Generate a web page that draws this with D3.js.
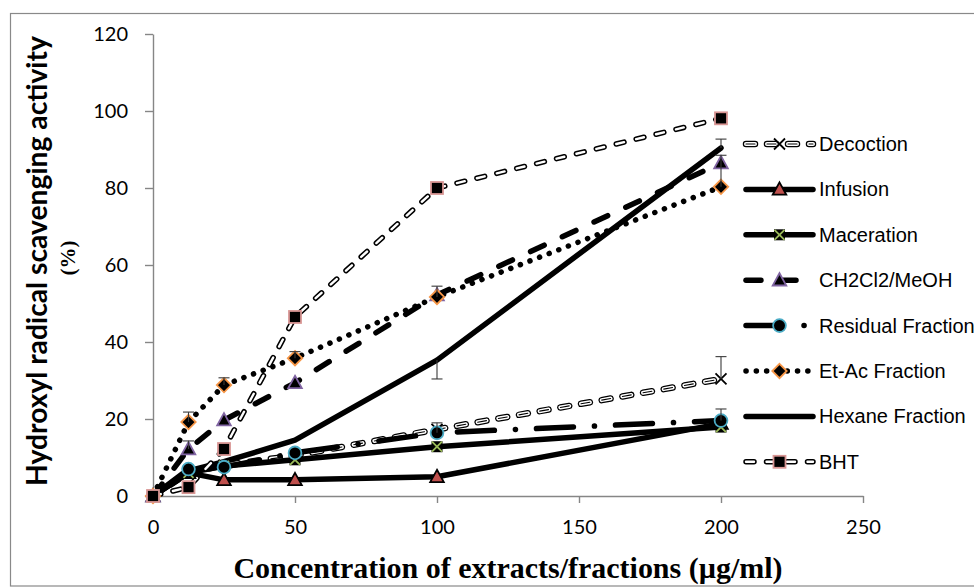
<!DOCTYPE html>
<html>
<head>
<meta charset="utf-8">
<script src="https://cdn.jsdelivr.net/npm/d3@7"></script>
<style>
  html, body { margin: 0; padding: 0; background: #fff; }
  svg { display: block; }
</style>
</head>
<body>
<svg id="chart" width="974" height="588"></svg>
<script>
// ---------- data ----------
const concentrations = [0, 12.5, 25, 50, 100, 200];
const seriesNames = ["Decoction", "Infusion", "Maceration", "CH2Cl2/MeOH",
  "Residual Fraction", "Et-Ac Fraction", "Hexane Fraction", "BHT"];
const decoction  = [0, 6.0, 8.0, 10.5, 17.3, 30.4];
const infusion   = [0, 6.0, 4.2, 4.2, 5.0, 18.8];
const maceration = [0, 6.0, 7.8, 9.4, 12.8, 17.9];
const ch2cl2     = [0, 12.2, 19.7, 29.4, 52.2, 86.5];
const residual   = [0, 7.0, 7.5, 11.2, 16.4, 19.6];
const etac       = [0, 19.2, 28.8, 35.8, 51.7, 80.3];
const hexane     = [0, 6.5, 8.9, 14.5, 35.3, 90.4];
const bht        = [0, 2.3, 12.2, 46.5, 80.0, 98.1];
// error bars (plus / minus), 0 = none
const decoctionErrPlus = [0, 0, 0, 0, 0, 5.8];
const etacErrPlus      = [0, 2.6, 1.9, 1.7, 2.8, 8.2];
const ch2cl2ErrPlus    = [0, 2.1, 0, 0, 0, 0];
const residualErrPlus  = [0, 0, 0, 0, 2.6, 3.0];
const hexaneErrPlus    = [0, 0, 0, 0, 0, 2.3];
const hexaneErrMinus   = [0, 0, 0, 0, 4.9, 0];
const zeros            = [0, 0, 0, 0, 0, 0];
const xTicks = [0, 50, 100, 150, 200, 250];
const yTicks = [0, 20, 40, 60, 80, 100, 120];
const xTitle = "Concentration of extracts/fractions (µg/ml)";
const yTitle1 = "Hydroxyl radical scavenging activity";
const yTitle2 = "(%)";

// ---------- setup ----------
const svg = d3.select("#chart");
const x = d3.scaleLinear().domain([0, 250]).range([153, 863]);
const y = d3.scaleLinear().domain([0, 120]).range([496, 34]);

// outer border
svg.append("rect").attr("x", 10.5).attr("y", 13.5).attr("width", 980).attr("height", 572.5)
  .attr("fill", "none").attr("stroke", "#898989").attr("stroke-width", 1.2);

const series = [
  {name: seriesNames[0], values: decoction,  style: "hollow2", marker: "x",        plus: decoctionErrPlus, minus: zeros},
  {name: seriesNames[1], values: infusion,   style: "solid",   marker: "triRed",   plus: zeros, minus: zeros},
  {name: seriesNames[2], values: maceration, style: "solid",   marker: "xGreen",   plus: zeros, minus: zeros},
  {name: seriesNames[3], values: ch2cl2,     style: "dash",    marker: "triPurple",plus: ch2cl2ErrPlus, minus: zeros},
  {name: seriesNames[4], values: residual,   style: "dashdot", marker: "circle",   plus: residualErrPlus, minus: zeros},
  {name: seriesNames[5], values: etac,       style: "dot",     marker: "diamond",  plus: etacErrPlus, minus: zeros},
  {name: seriesNames[6], values: hexane,     style: "solid",   marker: "none",     plus: hexaneErrPlus, minus: hexaneErrMinus},
  {name: seriesNames[7], values: bht,        style: "hollow",  marker: "square",   plus: zeros, minus: zeros}
];

// ---------- axes ----------
const axisColor = "#868686";
const yAxis = svg.append("g").attr("transform", "translate(153,0)")
  .call(d3.axisLeft(y).tickValues(yTicks).tickSize(8).tickSizeOuter(0).tickPadding(17));
const xAxis = svg.append("g").attr("transform", "translate(0,496)")
  .call(d3.axisBottom(x).tickValues(xTicks).tickSize(7).tickSizeOuter(0).tickPadding(17));
[xAxis, yAxis].forEach(a => {
  a.selectAll("path.domain").attr("stroke", axisColor).attr("stroke-width", 1.4);
  a.selectAll(".tick line").attr("stroke", axisColor).attr("stroke-width", 1.4);
  a.selectAll(".tick text").attr("fill", "#000").attr("font-family", "Lato, 'Open Sans', sans-serif")
    .attr("font-size", 20);
});

// ---------- lines ----------
const lineGen = d3.line().x((d, i) => x(concentrations[i])).y(d => y(d));
const plot = svg.append("g");

function styledPath(g, d, style) {
  const add = (w, color, dash, cap) => g.append("path").attr("d", d).attr("fill", "none")
    .attr("stroke", color).attr("stroke-width", w).attr("stroke-linejoin", "round")
    .attr("stroke-linecap", cap || "round").attr("stroke-dasharray", dash || null);
  if (style === "solid") add(5.5, "#000");
  else if (style === "dash") add(5.5, "#000", "15,20");
  else if (style === "dashdot") add(5.5, "#000", "37,21,0.1,21");
  else if (style === "dot") add(5.5, "#000", "0.1,10.2");
  else if (style === "hollow") { add(5.5, "#000", "8,12.5"); add(2.4, "#fff", "8,12.5"); }
  else if (style === "hollow2") { add(6.5, "#000", "9,12"); add(4, "#fff", "9,12"); add(1.1, "#000", "9,12"); }
}

series.forEach(s => styledPath(plot.append("g"), lineGen(s.values), s.style));

// ---------- markers ----------
function drawMarker(g, cx, cy, type) {
  const m = g.append("g").attr("transform", `translate(${cx},${cy})`);
  if (type === "square") {
    m.append("rect").attr("x", -6).attr("y", -6).attr("width", 12).attr("height", 12)
      .attr("fill", "#000").attr("stroke", "#d99694").attr("stroke-width", 1.8);
  } else if (type === "triPurple" || type === "triRed") {
    m.append("path").attr("d", "M0,-7 L6.8,5.3 L-6.8,5.3 Z")
      .attr("fill", type === "triPurple" ? "#000" : "#c0504d")
      .attr("stroke", type === "triPurple" ? "#8064a2" : "#000").attr("stroke-width", 1.8)
      .attr("stroke-linejoin", "miter");
  } else if (type === "circle") {
    m.append("circle").attr("r", 6.4).attr("fill", "#000").attr("stroke", "#4bacc6").attr("stroke-width", 1.8);
  } else if (type === "diamond") {
    m.append("path").attr("d", "M0,-7.2 L7.2,0 L0,7.2 L-7.2,0 Z")
      .attr("fill", "#000").attr("stroke", "#f79646").attr("stroke-width", 1.8);
  } else if (type === "xGreen") {
    m.append("rect").attr("x", -5.5).attr("y", -5.5).attr("width", 11).attr("height", 11).attr("fill", "#000");
    m.append("path").attr("d", "M-5,-5 L5,5 M5,-5 L-5,5").attr("stroke", "#9bbb59").attr("stroke-width", 1.8);
  } else if (type === "x") {
    m.append("path").attr("d", "M-5.5,-5.5 L5.5,5.5 M5.5,-5.5 L-5.5,5.5").attr("stroke", "#000").attr("stroke-width", 1.8);
  }
}

const markerLayer = svg.append("g");
series.forEach(s => {
  if (s.marker === "none") return;
  s.values.forEach((v, i) => drawMarker(markerLayer, x(concentrations[i]), y(v), s.marker));
});

// ---------- error bars ----------
const errLayer = svg.append("g");
series.forEach(s => {
  s.values.forEach((v, i) => {
    const cx = x(concentrations[i]);
    [[s.plus[i], 1], [s.minus[i], -1]].forEach(([e, dir]) => {
      if (!e) return;
      const y0 = y(v), y1 = y(v + dir * e);
      errLayer.append("line").attr("x1", cx).attr("x2", cx).attr("y1", y0).attr("y2", y1)
        .attr("stroke", "#3a3a3a").attr("stroke-width", 1.1);
      errLayer.append("line").attr("x1", cx - 5.5).attr("x2", cx + 5.5).attr("y1", y1).attr("y2", y1)
        .attr("stroke", "#3a3a3a").attr("stroke-width", 1.1);
    });
  });
});

// ---------- legend ----------
const legend = svg.append("g");
series.forEach((s, i) => {
  const ly = 144 + i * 45.4;
  const g = legend.append("g");
  styledPath(g, `M746,${ly} L813,${ly}`, s.style);
  if (s.marker !== "none") drawMarker(g, 779.5, ly, s.marker);
  g.append("text").attr("x", 819).attr("y", ly).attr("dy", "0.35em")
    .attr("font-family", "'Liberation Sans', Arial, sans-serif").attr("font-size", 20)
    .attr("fill", "#000").text(s.name);
});

// ---------- titles ----------
function fitText(t, width) {
  const fs = parseFloat(t.attr("font-size"));
  const len = t.node().getComputedTextLength();
  t.attr("font-size", (fs * width / len).toFixed(2));
}
const xt = svg.append("text").attr("x", 508).attr("y", 578).attr("text-anchor", "middle")
  .attr("font-family", "'Liberation Serif', 'Times New Roman', serif").attr("font-weight", "bold")
  .attr("font-size", 30).attr("fill", "#000").text(xTitle);
fitText(xt, 549);

const yt = svg.append("text").attr("transform", "translate(37,261) rotate(-90)")
  .attr("text-anchor", "middle").attr("dy", "0.35em")
  .attr("font-family", "Lato, 'Open Sans', sans-serif").attr("font-weight", "bold")
  .attr("font-size", 22).attr("fill", "#000").text(yTitle1);
fitText(yt, 450);
svg.append("text").attr("transform", "translate(68,258) rotate(-90)")
  .attr("text-anchor", "middle").attr("dy", "0.35em")
  .attr("font-family", "'Liberation Serif', 'Times New Roman', serif").attr("font-weight", "bold")
  .attr("font-size", 21).attr("fill", "#000").text(yTitle2);
</script>
</body>
</html>
